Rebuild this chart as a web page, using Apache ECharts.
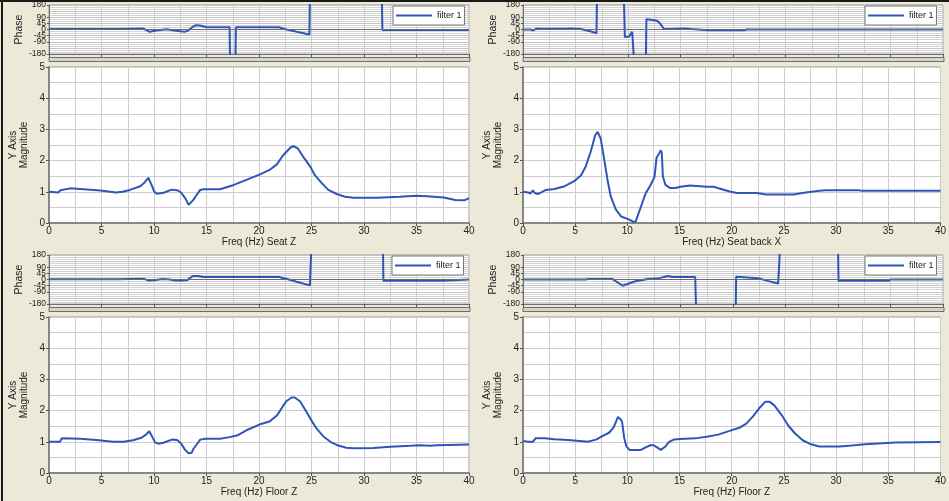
<!DOCTYPE html>
<html>
<head>
<meta charset="utf-8">
<script src="https://cdn.jsdelivr.net/npm/echarts@6/dist/echarts.min.js"></script>
<style>
html,body{margin:0;padding:0;background:#ece9d8;}
#chart{width:949px;height:501px;}
</style>
</head>
<body>
<div id="chart"></div>
<script>
// ---------- DATA ----------
const xTickLabels = ['0','5','10','15','20','25','30','35','40'];
const panelTitles = ['Freq (Hz) Seat Z', 'Freq (Hz) Seat back X', 'Freq (Hz) Floor Z', 'Freq (Hz) Floor Z'];
const legendName = 'filter 1';

// Panel 1: Seat Z
const seatZFreq = [0,0.9,1.1,1.2,2,3,4.9,6.4,7,7.7,8.7,9.1,9.46,9.8,10,10.25,10.9,11.7,12.3,12.6,13.0,13.3,13.75,14.1,14.4,14.7,16.3,17.6,18.8,20.1,21,21.7,22.3,23,23.3,23.7,24.2,24.9,25.3,26,26.6,27.4,28.2,29,31.2,33.4,35,36,37.6,38.7,39.6,40];
const seatZMag  = [1.0,0.98,1.05,1.11,1.11,1.09,1.04,0.98,1.0,1.06,1.18,1.3,1.45,1.2,1.02,0.94,0.97,1.07,1.04,0.97,0.78,0.58,0.74,0.92,1.06,1.08,1.08,1.22,1.38,1.56,1.7,1.88,2.17,2.42,2.46,2.39,2.13,1.8,1.54,1.27,1.06,0.93,0.84,0.81,0.81,0.84,0.87,0.86,0.82,0.74,0.73,0.8];
const seatZPhaseFreq = [0,6.5,6.6,9,9.6,10.2,11.2,12.1,12.9,13.2,13.6,14,14.4,15,17.2,17.25,17.75,17.8,21.9,22.6,23.5,24.8,24.85,31.7,31.75,40];
const seatZPhase     = [3,3,7,7,-17,-7,2,-10,-17,-10,15,32,30,17,17,-260,-260,17,17,0,-15,-36,260,260,-3,-3];

// Panel 2: Seat back X
const backXFreq = [0,0.5,0.7,0.95,1.1,1.4,1.75,2.2,3,4,4.9,5.55,6,6.5,6.9,7.15,7.45,7.8,8.1,8.4,8.9,9.4,10,10.3,10.6,10.8,11.3,11.75,12.2,12.6,12.8,13,13.2,13.3,13.4,13.65,14.1,14.6,15.1,16,17.6,18.25,18.9,19.8,20.5,22.4,23.3,25.9,27.1,28.4,29,32.2,32.5,40];
const backXMag  = [1.0,0.98,0.94,1.05,0.97,0.93,0.98,1.06,1.09,1.18,1.34,1.52,1.8,2.3,2.8,2.92,2.7,2.0,1.38,0.86,0.43,0.21,0.13,0.09,0.03,0.05,0.52,0.95,1.2,1.47,2.1,2.2,2.33,2.25,1.5,1.22,1.12,1.12,1.16,1.2,1.16,1.16,1.1,1.01,0.96,0.96,0.91,0.91,0.98,1.03,1.05,1.05,1.03,1.03];
const backXPhaseFreq = [0,0.7,0.9,1.1,1.3,1.5,4,4.5,5.5,6,6.5,7,7.05,9.6,9.7,10.1,10.4,10.6,11.7,11.75,12.4,12.8,13.1,13.4,14,14.1,15.4,16,17.6,21.1,21.3,40];
const backXPhase     = [0,0,-6,-2,8,6,6,8,3,-5,-15,-27,260,260,-56,-52,-17,-260,-260,75,70,62,40,5,3,7,7,3,-5,-5,0,0];

// Panel 3: Floor Z (left)
const floorZaFreq = [0,1.05,1.2,2.95,4.5,6.1,7.1,8,8.8,9.2,9.55,9.85,10.1,10.4,10.9,11.7,12.2,12.6,12.95,13.3,13.6,13.75,14.1,14.4,14.9,16.3,17.2,17.9,18.8,20.1,21,21.7,22.2,22.6,23.1,23.4,23.9,24.4,25,25.5,26.1,26.8,27.4,28.3,29,30.9,32.5,34.4,35.3,36.3,36.9,40];
const floorZaMag  = [1.0,1.0,1.11,1.1,1.06,1.0,1.0,1.05,1.13,1.22,1.34,1.15,0.98,0.94,0.97,1.07,1.06,0.94,0.75,0.63,0.65,0.77,0.93,1.07,1.1,1.1,1.15,1.2,1.37,1.56,1.65,1.84,2.1,2.3,2.42,2.42,2.3,2.03,1.68,1.42,1.18,1.0,0.9,0.81,0.79,0.8,0.84,0.87,0.89,0.87,0.89,0.91];
const floorZaPhaseFreq = [0,6.5,6.6,9,9.5,10,10.8,11.5,12,12.8,13.2,13.7,14.2,14.7,21.9,22.6,23.5,24.85,25,31.8,31.85,37.4,37.5,40];
const floorZaPhase     = [2,2,6,6,-8,-6,3,0,-8,-8,-3,26,26,18,18,5,-15,-43,260,260,-10,-10,0,0];

// Panel 4: Floor Z (right)
const floorZbFreq = [0,0.5,0.95,1.2,2.1,3,4.3,5.2,6.2,7,7.6,8.25,8.7,9.1,9.4,9.5,9.7,9.9,10.2,11.3,11.75,12.2,12.5,12.85,13.2,13.65,14,14.45,15.1,16.5,17.6,18.7,19.8,20.8,21.4,22.1,22.7,23.2,23.65,24.1,24.8,25.4,26,26.8,27.6,28.4,30.3,31.5,32.8,34.4,35.7,40];
const floorZbMag  = [1.03,1.0,1.0,1.11,1.11,1.08,1.06,1.03,1.0,1.07,1.18,1.29,1.47,1.8,1.7,1.62,1.12,0.86,0.74,0.74,0.82,0.89,0.89,0.82,0.74,0.85,1.0,1.07,1.09,1.11,1.16,1.23,1.35,1.46,1.58,1.84,2.1,2.28,2.28,2.16,1.85,1.53,1.29,1.05,0.92,0.85,0.85,0.88,0.92,0.95,0.98,0.99];
const floorZbPhaseFreq = [0,6,6.2,8.5,9.5,10.6,11.9,13,13.8,14.3,16.4,16.5,20.25,20.3,22.4,23.3,24.3,24.5,30,30.05,34.8,35,40];
const floorZbPhase     = [0,0,4,4,-46,-15,3,10,26,18,18,-260,-260,20,10,-10,-30,260,260,-10,-10,0,0];

// ---------- LAYOUT / STYLE ----------
const FONT = '"Liberation Sans", Arial, sans-serif';
const LINE = '#2f55b8';
const GRIDC = '#cdcdcd';
const AXC = '#707070';

const panels = [
  {left:49,  phTop:5,   magTop:67,  f:seatZFreq,  m:seatZMag,  pf:seatZPhaseFreq,  p:seatZPhase,  lg:[393,6]},
  {left:523, phTop:5,   magTop:67,  f:backXFreq,  m:backXMag,  pf:backXPhaseFreq,  p:backXPhase,  lg:[865,6]},
  {left:49,  phTop:255, magTop:317, f:floorZaFreq,m:floorZaMag,pf:floorZaPhaseFreq,p:floorZaPhase,lg:[392,256]},
  {left:523, phTop:255, magTop:317, f:floorZbFreq,m:floorZbMag,pf:floorZbPhaseFreq,p:floorZbPhase,lg:[865,256]}
];
const W = 420, PH = 49, MH = 156;

const zip = (a, b) => a.map((v, i) => [v, b[i]]);

const grid = [], xAxis = [], yAxis = [], series = [], legend = [], graphic = [];

panels.forEach((pn, i) => {
  const gP = 2*i, gM = 2*i+1;
  grid.push({left:pn.left, top:pn.phTop, width:W, height:PH, show:true, backgroundColor:'#fff', borderColor:'#9a9a9a', borderWidth:1, containLabel:false});
  grid.push({left:pn.left, top:pn.magTop, width:W, height:MH, show:true, backgroundColor:'#fff', borderColor:'#9a9a9a', borderWidth:1, containLabel:false});

  // phase x axis
  xAxis.push({type:'value', gridIndex:gP, min:0, max:40, interval:5,
    axisLine:{show:true, onZero:false, lineStyle:{color:AXC, width:1}},
    axisTick:{show:true, length:3, lineStyle:{color:'#555'}},
    axisLabel:{show:false},
    splitLine:{show:true, lineStyle:{color:GRIDC, width:1}},
    minorTick:{show:false, splitNumber:2},
    minorSplitLine:{show:true, lineStyle:{color:GRIDC, width:1}}
  });
  // magnitude x axis
  xAxis.push({type:'value', gridIndex:gM, min:0, max:40, interval:5,
    axisLine:{show:true, onZero:false, lineStyle:{color:AXC, width:1.5}},
    axisTick:{show:true, length:3, lineStyle:{color:'#555'}},
    axisLabel:{show:true, margin:3, fontSize:10, color:'#222', fontFamily:FONT,
      formatter:(v) => xTickLabels[Math.round(v/5)]},
    splitLine:{show:true, lineStyle:{color:GRIDC, width:1}},
    minorTick:{show:false, splitNumber:2},
    minorSplitLine:{show:true, lineStyle:{color:GRIDC, width:1}},
    name:panelTitles[i], nameLocation:'middle', nameGap:11,
    nameTextStyle:{fontSize:10, color:'#222', fontFamily:FONT}
  });
  // phase y axis
  yAxis.push({type:'value', gridIndex:gP, min:-180, max:180, interval:45,
    axisLine:{show:true, lineStyle:{color:AXC, width:1}},
    axisTick:{show:true, length:2, lineStyle:{color:'#555'}},
    axisLabel:{show:true, margin:3, fontSize:8.5, lineHeight:5, color:'#222', fontFamily:FONT,
      showMinLabel:true, showMaxLabel:true, hideOverlap:false},
    splitLine:{show:true, lineStyle:{color:'#c4c4c4', width:1}},
    minorTick:{show:false, splitNumber:3},
    minorSplitLine:{show:true, lineStyle:{color:'#d4d4d4', width:1}},
    name:'Phase', nameLocation:'middle', nameRotate:90, nameGap:20,
    nameTextStyle:{fontSize:10.5, color:'#222', fontFamily:FONT}
  });
  // magnitude y axis
  yAxis.push({type:'value', gridIndex:gM, min:0, max:5, interval:1,
    axisLine:{show:true, lineStyle:{color:AXC, width:1.5}},
    axisTick:{show:true, length:3, lineStyle:{color:'#555'}},
    axisLabel:{show:true, margin:4, fontSize:10, color:'#222', fontFamily:FONT,
      showMinLabel:true, showMaxLabel:true},
    splitLine:{show:true, lineStyle:{color:GRIDC, width:1}},
    minorTick:{show:false, splitNumber:2},
    minorSplitLine:{show:true, lineStyle:{color:GRIDC, width:1}},
    name:'Y Axis\nMagnitude', nameLocation:'middle', nameRotate:90, nameGap:19,
    nameTextStyle:{fontSize:10, lineHeight:11, color:'#222', fontFamily:FONT}
  });

  // zero line of phase plot
  series.push({type:'line', name:'zero', xAxisIndex:gP, yAxisIndex:gP, data:[], z:1, silent:true,
    markLine:{silent:true, symbol:'none', animation:false, label:{show:false},
      lineStyle:{color:'#6a6a6a', width:1, type:'solid'}, data:[{yAxis:0}]}
  });
  series.push({type:'line', name:legendName, xAxisIndex:gP, yAxisIndex:gP, data:zip(pn.pf, pn.p),
    showSymbol:false, clip:true, z:3, color:LINE, lineStyle:{color:LINE, width:2}});
  series.push({type:'line', name:legendName, xAxisIndex:gM, yAxisIndex:gM, data:zip(pn.f, pn.m),
    showSymbol:false, clip:true, z:3, color:LINE, lineStyle:{color:LINE, width:2}});

  legend.push({data:[legendName], left:pn.lg[0], top:pn.lg[1], orient:'horizontal',
    backgroundColor:'#fff', borderColor:'#7a7a7a', borderWidth:1, borderRadius:0,
    padding:[5,3], itemWidth:36, itemHeight:2, icon:'rect', itemGap:0, selectedMode:false,
    textStyle:{fontSize:9, color:'#222', fontFamily:FONT}});

  // grey separator band between phase and magnitude plots
  graphic.push({type:'rect', z:10, silent:true,
    shape:{x:pn.left, y:pn.phTop + PH + 3.5, width:W + 1, height:4},
    style:{fill:'#d8d5c8', stroke:'#6e6e6e', lineWidth:1}});
});

// outer frame lines
graphic.push({type:'line', silent:true, shape:{x1:2, y1:0, x2:2, y2:501}, style:{stroke:'#1a1a1a', lineWidth:2}});
graphic.push({type:'line', silent:true, shape:{x1:0, y1:1, x2:949, y2:1}, style:{stroke:'#1a1a1a', lineWidth:2}});

const chart = echarts.init(document.getElementById('chart'), null, {renderer:'canvas'});
chart.setOption({
  animation:false,
  backgroundColor:'#ece9d8',
  textStyle:{fontFamily:FONT},
  grid, xAxis, yAxis, series, legend, graphic
});
</script>
</body>
</html>
